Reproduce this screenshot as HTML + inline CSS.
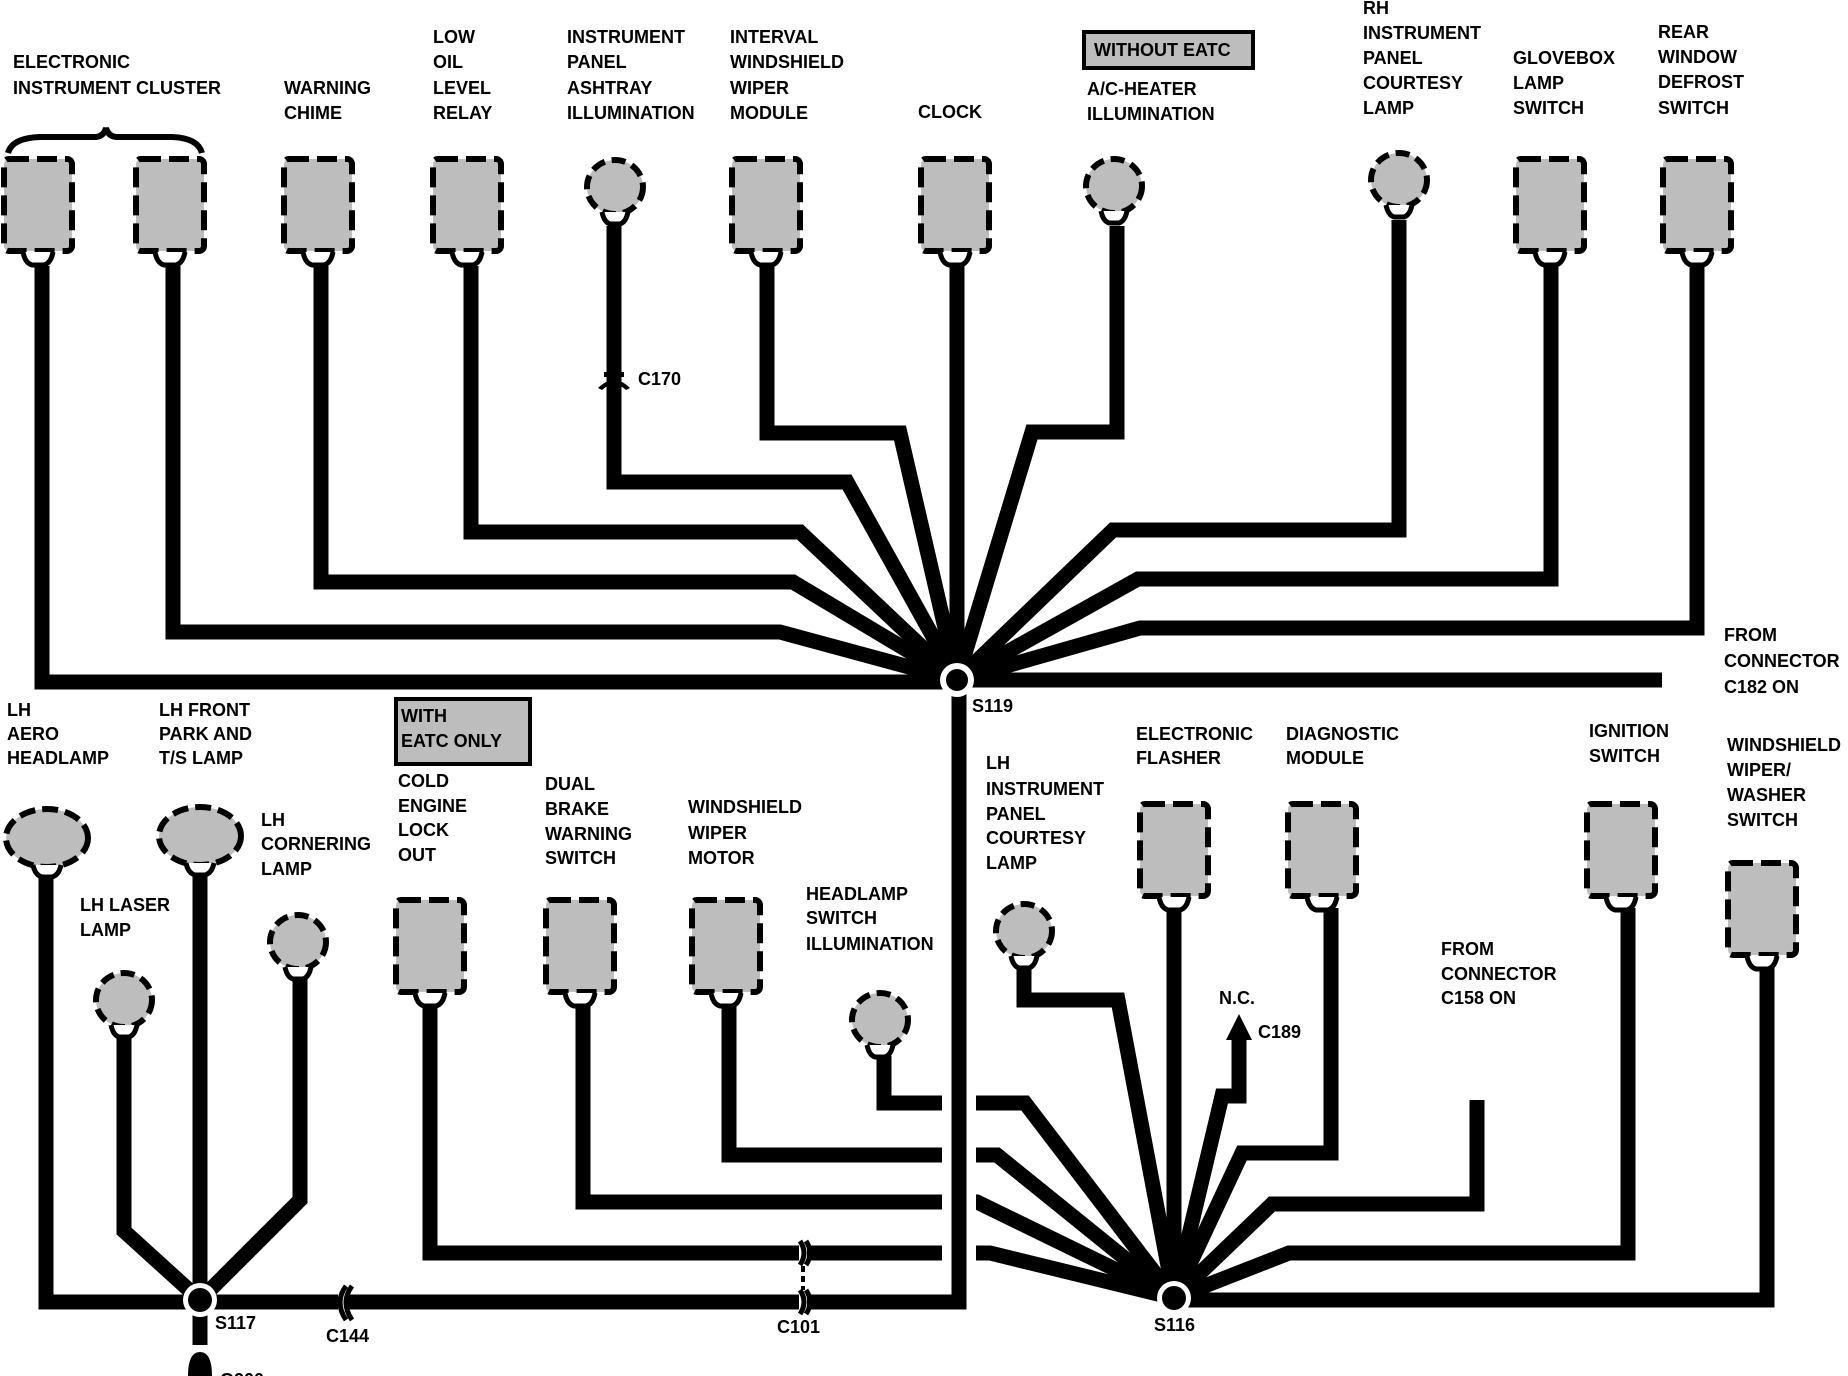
<!DOCTYPE html>
<html><head><meta charset="utf-8"><style>
html,body{margin:0;padding:0;background:#fff;}
svg{display:block;}
text{font-family:"Liberation Sans",sans-serif;font-weight:bold;font-size:18px;fill:#000;}
</style></head><body>
<svg width="1848" height="1376" viewBox="0 0 1848 1376" xmlns="http://www.w3.org/2000/svg">
<defs>
<g id="bx">
<rect x="-34" y="-46" width="68" height="92" rx="5" fill="#bdbdbd" stroke="#000" stroke-width="6" stroke-dasharray="20 8"/>
<path d="M-15,47 Q-13,58 -6,60 L6,60 Q13,58 15,47" fill="#fff" stroke="#000" stroke-width="5"/>
</g>
<g id="bl">
<ellipse cx="0" cy="0" rx="28" ry="27" fill="#bdbdbd" stroke="#000" stroke-width="6" stroke-dasharray="14 7"/>
<path d="M-13,25 Q-11,35 -5,37 L5,37 Q11,35 13,25" fill="#fff" stroke="#000" stroke-width="5"/>
</g>
<g id="ov">
<ellipse cx="0" cy="0" rx="41" ry="29" fill="#bdbdbd" stroke="#000" stroke-width="6" stroke-dasharray="16 7"/>
<path d="M-14,27 Q-12,37 -5,39 L5,39 Q12,37 14,27" fill="#fff" stroke="#000" stroke-width="5"/>
</g>
</defs>

<g fill="none" stroke="#000" stroke-width="15" stroke-linejoin="miter">
<polyline points="42,266 42,682 957,682"/>
<polyline points="173,266 173,632 780,632 957,680"/>
<polyline points="321,266 321,582 793,582 957,680"/>
<polyline points="471,266 471,532 800,532 957,680"/>
<polyline points="614,226 614,482 847,482 957,680"/>
<polyline points="767,266 767,433 900,433 957,680"/>
<polyline points="957,266 957,680"/>
<polyline points="1117,226 1117,432 1032,432 957,680"/>
<polyline points="1399,220 1399,530 1113,530 957,680"/>
<polyline points="1551,266 1551,579 1138,579 957,680"/>
<polyline points="1697,266 1697,628 1140,628 957,680"/>
<polyline points="957,680 1662,680"/>

<polyline points="46,876 46,1302 200,1302"/>
<polyline points="200,876 200,1300"/>
<polyline points="124,1036 124,1231 200,1300"/>
<polyline points="300,978 300,1200 200,1300"/>
<polyline points="200,1302 959,1302 959,680"/>
<line x1="200" y1="1300" x2="200" y2="1345"/>

<polyline points="430,1000 430,1253 990,1253 1174,1298"/>
<polyline points="583,1000 583,1202 977,1202 1174,1298"/>
<polyline points="729,1000 729,1155 997,1155 1174,1298"/>
<polyline points="884,1056 884,1103 1025,1103 1174,1298"/>
</g>
<line x1="959" y1="1085" x2="959" y2="1270" stroke="#fff" stroke-width="34"/>
<line x1="959" y1="1080" x2="959" y2="1305" stroke="#000" stroke-width="15"/>
<line x1="803" y1="1240" x2="803" y2="1315" stroke="#fff" stroke-width="8"/>
<line x1="342" y1="1290" x2="342" y2="1315" stroke="#fff" stroke-width="8"/>

<g fill="none" stroke="#000" stroke-width="15" stroke-linejoin="miter">
<polyline points="1024,966 1024,1000 1118,1000 1174,1298"/>
<polyline points="1174,908 1174,1298"/>
<polyline points="1331,908 1331,1153 1242,1153 1174,1298"/>
<polyline points="1239,1030 1239,1096 1222,1096 1174,1298"/>
<polyline points="1477,1100 1477,1204 1272,1204 1174,1298"/>
<polyline points="1628,908 1628,1253 1289,1253 1174,1298"/>
<polyline points="1767,967 1767,1300 1174,1300"/>
</g>
<polygon points="1239,1014 1226,1040 1252,1040" fill="#000"/>

<g fill="none" stroke="#000" stroke-width="5">
<path d="M800,1241 Q808,1253 800,1265"/><path d="M806,1241 Q814,1253 806,1265"/>
<path d="M800,1290 Q808,1302 800,1314"/><path d="M806,1290 Q814,1302 806,1314"/>
<line x1="803" y1="1266" x2="803" y2="1290" stroke-dasharray="6 4" stroke-width="4"/>
<path d="M346,1286 Q334,1302 346,1320"/><path d="M352,1286 Q340,1302 352,1320"/>
</g>
<g fill="#000">
<rect x="604" y="372" width="20" height="5"/>
<path d="M598,388 Q614,372 630,388 L626,390 Q614,379 602,390Z"/>
<rect x="192" y="1345" width="16" height="5" fill="#fff"/>
<path d="M188,1376 Q188,1352 200,1352 Q212,1352 212,1376Z"/>
</g>

<circle cx="957" cy="680" r="17" fill="#fff"/><circle cx="957" cy="680" r="11" fill="#000"/>
<circle cx="200" cy="1300" r="17" fill="#fff"/><circle cx="200" cy="1300" r="12" fill="#000"/>
<circle cx="1174" cy="1298" r="17" fill="#fff"/><circle cx="1174" cy="1298" r="12" fill="#000"/>

<path d="M8,153 Q12,138 40,137 L96,137 Q104,136 106,128 Q108,136 116,137 L172,137 Q198,138 202,153" fill="none" stroke="#000" stroke-width="6"/>

<use href="#bx" transform="translate(38,205)"/>
<use href="#bx" transform="translate(170,205)"/>
<use href="#bx" transform="translate(318,205)"/>
<use href="#bx" transform="translate(467,205)"/>
<use href="#bl" transform="translate(615,187)"/>
<use href="#bx" transform="translate(766,205)"/>
<use href="#bx" transform="translate(955,205)"/>
<use href="#bl" transform="translate(1114,186)"/>
<use href="#bl" transform="translate(1399,180)"/>
<use href="#bx" transform="translate(1550,205)"/>
<use href="#bx" transform="translate(1697,205)"/>

<use href="#ov" transform="translate(47,838)"/>
<use href="#ov" transform="translate(200,836)"/>
<use href="#bl" transform="translate(124,1000)"/>
<use href="#bl" transform="translate(298,942)"/>
<use href="#bx" transform="translate(430,946)"/>
<use href="#bx" transform="translate(580,946)"/>
<use href="#bx" transform="translate(726,946)"/>
<use href="#bl" transform="translate(880,1020)"/>
<use href="#bl" transform="translate(1024,931)"/>
<use href="#bx" transform="translate(1174,850)"/>
<use href="#bx" transform="translate(1322,850)"/>
<use href="#bx" transform="translate(1621,850)"/>
<use href="#bx" transform="translate(1762,909)"/>

<rect x="1084" y="32" width="169" height="36" fill="#bdbdbd" stroke="#000" stroke-width="4"/>
<rect x="396" y="699" width="134" height="65" fill="#bdbdbd" stroke="#000" stroke-width="4"/>

<text x="13" y="68">ELECTRONIC</text><text x="13" y="94">INSTRUMENT CLUSTER</text>
<text x="284" y="94">WARNING</text><text x="284" y="119">CHIME</text>
<text x="433" y="43">LOW</text><text x="433" y="68">OIL</text><text x="433" y="94">LEVEL</text><text x="433" y="119">RELAY</text>
<text x="567" y="43">INSTRUMENT</text><text x="567" y="68">PANEL</text><text x="567" y="94">ASHTRAY</text><text x="567" y="119">ILLUMINATION</text>
<text x="730" y="43">INTERVAL</text><text x="730" y="68">WINDSHIELD</text><text x="730" y="94">WIPER</text><text x="730" y="119">MODULE</text>
<text x="918" y="118">CLOCK</text>
<text x="1094" y="56">WITHOUT EATC</text>
<text x="1087" y="95">A/C-HEATER</text><text x="1087" y="120">ILLUMINATION</text>
<text x="1363" y="14">RH</text><text x="1363" y="39">INSTRUMENT</text><text x="1363" y="64">PANEL</text><text x="1363" y="89">COURTESY</text><text x="1363" y="114">LAMP</text>
<text x="1513" y="64">GLOVEBOX</text><text x="1513" y="89">LAMP</text><text x="1513" y="114">SWITCH</text>
<text x="1658" y="38">REAR</text><text x="1658" y="63">WINDOW</text><text x="1658" y="88">DEFROST</text><text x="1658" y="114">SWITCH</text>
<text x="1724" y="641">FROM</text><text x="1724" y="667">CONNECTOR</text><text x="1724" y="693">C182 ON</text>
<text x="638" y="385">C170</text>
<text x="972" y="712">S119</text>

<text x="7" y="716">LH</text><text x="7" y="740">AERO</text><text x="7" y="764">HEADLAMP</text>
<text x="159" y="716">LH FRONT</text><text x="159" y="740">PARK AND</text><text x="159" y="764">T/S LAMP</text>
<text x="401" y="722">WITH</text><text x="401" y="747">EATC ONLY</text>
<text x="398" y="787">COLD</text><text x="398" y="812">ENGINE</text><text x="398" y="836">LOCK</text><text x="398" y="861">OUT</text>
<text x="545" y="790">DUAL</text><text x="545" y="815">BRAKE</text><text x="545" y="840">WARNING</text><text x="545" y="864">SWITCH</text>
<text x="688" y="813">WINDSHIELD</text><text x="688" y="839">WIPER</text><text x="688" y="864">MOTOR</text>
<text x="261" y="826">LH</text><text x="261" y="850">CORNERING</text><text x="261" y="875">LAMP</text>
<text x="80" y="911">LH LASER</text><text x="80" y="936">LAMP</text>
<text x="806" y="900">HEADLAMP</text><text x="806" y="924">SWITCH</text><text x="806" y="950">ILLUMINATION</text>
<text x="986" y="769">LH</text><text x="986" y="795">INSTRUMENT</text><text x="986" y="820">PANEL</text><text x="986" y="844">COURTESY</text><text x="986" y="869">LAMP</text>
<text x="1136" y="740">ELECTRONIC</text><text x="1136" y="764">FLASHER</text>
<text x="1286" y="740">DIAGNOSTIC</text><text x="1286" y="764">MODULE</text>
<text x="1589" y="737">IGNITION</text><text x="1589" y="762">SWITCH</text>
<text x="1727" y="751">WINDSHIELD</text><text x="1727" y="776">WIPER/</text><text x="1727" y="801">WASHER</text><text x="1727" y="826">SWITCH</text>
<text x="1441" y="955">FROM</text><text x="1441" y="980">CONNECTOR</text><text x="1441" y="1004">C158 ON</text>
<text x="1219" y="1004">N.C.</text><text x="1258" y="1038">C189</text>
<text x="215" y="1329">S117</text>
<text x="326" y="1342">C144</text>
<text x="777" y="1333">C101</text>
<text x="1154" y="1331">S116</text>
<text x="220" y="1386">G200</text>
</svg>
</body></html>
